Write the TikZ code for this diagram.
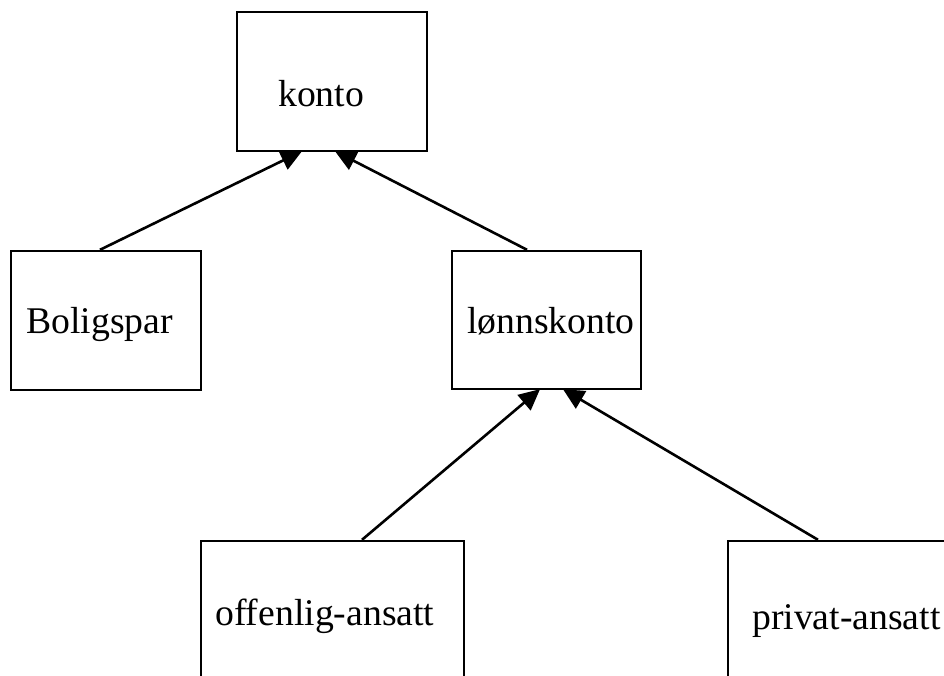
\documentclass[tikz,border=0pt]{standalone}
\usepackage{fontspec}
\setmainfont{Liberation Serif}
\usepackage{tikz}
\usetikzlibrary{arrows.meta,calc,backgrounds}

\tikzset{
  klasse/.style={draw, fill=white, line width=2.4pt, inner sep=0pt, minimum width=190pt, minimum height=139pt},
  klassebred/.style={klasse, minimum width=263pt, minimum height=138pt},
  navn/.style={anchor=base west, inner sep=0pt, font=\fontsize{37.7}{40}\selectfont},
  arv/.style={line width=2.6pt, -{Triangle[length=21pt,width=20pt]}}
}

\begin{document}
\begin{tikzpicture}[x=1pt,y=-1pt]
\useasboundingbox (0,0) rectangle (944,676);
\clip (0,0) rectangle (944,676);
% klassene
\node[klasse] (konto) at (332,81.5) {};
\node[klasse] (bolig) at (106,320.5) {};
\node[klasse, minimum width=189pt, minimum height=138pt] (lonn) at (546.5,320) {};
\node[klassebred] (offentlig) at (332.5,610) {};
\node[klassebred] (privat) at (859.5,610) {};
% navnene
\node[navn] (kontonavn) at (278,107) {konto};
\node[navn] (bolignavn) at (26,333) {Boligspar};
\node[navn] (lonnnavn) at (467,333) {lønnskonto};
\node[navn] (offentlignavn) at (215,625) {offenlig-ansatt};
\node[navn] (privatnavn) at (752,629) {privat-ansatt};
% arv, under boksene
\begin{scope}[on background layer]
\draw[arv] ($(bolig.north)+(-6,0)$) -- ($(konto.south)+(-30,-1)$);
\draw[arv] ($(lonn.north)+(-19.5,0)$) -- ($(konto.south)+(3,-1)$);
\draw[arv] ($(offentlig.north)+(29.5,0)$) -- ($(lonn.south)+(-6.5,-1)$);
\draw[arv] ($(privat.north)+(-41.5,0)$) -- ($(lonn.south)+(16.5,-1)$);
\end{scope}
\end{tikzpicture}
\end{document}
